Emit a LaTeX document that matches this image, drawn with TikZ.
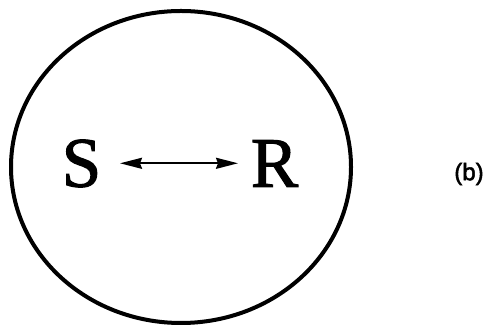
\documentclass[tikz,border=0pt]{standalone}
\usepackage{fontspec}
\setmainfont{Liberation Serif}
\newfontfamily\heavyserif[FakeBold=1.5]{Liberation Serif}
\newfontfamily\labsans[FakeBold=2]{Liberation Sans}
\usetikzlibrary{arrows.meta}
\tikzset{
  letter/.style={font=\heavyserif\fontsize{71}{71}\selectfont, inner sep=0pt, anchor=center},
  duallink/.style={line width=2pt, >={Stealth[length=22pt,width=11pt,inset=2pt]}, <->}
}
\begin{document}
\begin{tikzpicture}[x=1pt,y=1pt]
\useasboundingbox (0,0) rectangle (486,328);
\draw[line width=4pt] (181,161) ellipse [x radius=170, y radius=156];
\node[letter] (S) at (81.5,164.5) {S};
\node[letter] (R) at (274.5,164.5) {R};
\coordinate (a) at (120,164.7);
\coordinate (b) at (238,164.7);
\draw[duallink] (a) -- (b);
\node[font=\labsans\fontsize{24}{24}\selectfont, inner sep=0pt] (lab) at (469,154) {(b)};
\end{tikzpicture}
\end{document}
